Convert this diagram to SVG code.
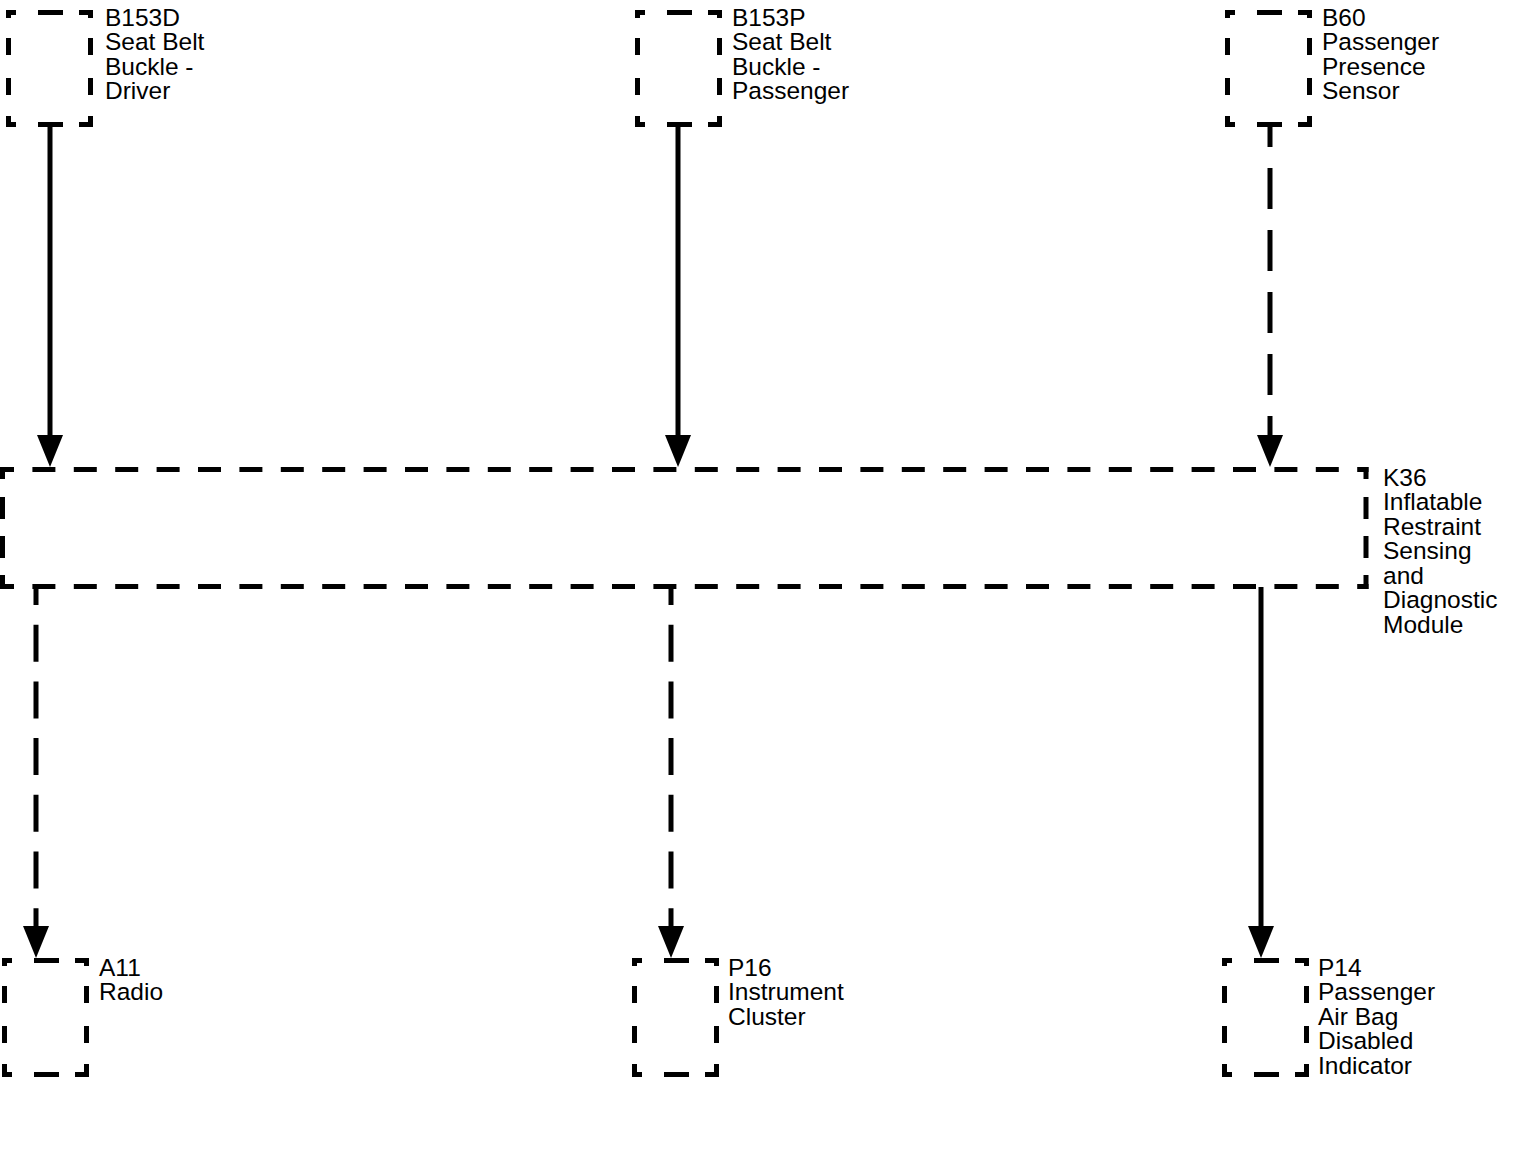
<svg xmlns="http://www.w3.org/2000/svg" width="1518" height="1150" viewBox="0 0 1518 1150">
<style>
.e{stroke:#000;stroke-width:5;fill:none;stroke-linecap:butt}
.h{stroke-dasharray:10 22 25 16 14}
.v{stroke-dasharray:8 20 17 23 17 21 11}
.kh{stroke-dasharray:23 18.4;stroke-dashoffset:9}
.kv{stroke-dasharray:12 18 22 17 22 17 14}
.c{stroke:#000;stroke-width:5;fill:none}
text{font-family:"Liberation Sans",Arial,Helvetica,sans-serif;font-size:24.5px;fill:#000}
</style>
<defs>
<marker id="arr" markerUnits="userSpaceOnUse" viewBox="0 -13 32 26" markerWidth="32" markerHeight="26" refX="16" refY="0" orient="auto">
<path d="M0,-13 L32,0 L0,13 z" fill="#000"/>
</marker>
</defs>

<g id="B153D">
<line class="e h" x1="6" y1="12.5" x2="93" y2="12.5"/>
<line class="e h" x1="6" y1="124.5" x2="93" y2="124.5"/>
<line class="e v" x1="8.5" y1="10" x2="8.5" y2="127"/>
<line class="e v" x1="90.5" y1="10" x2="90.5" y2="127"/>
<text x="105" y="25.5">B153D</text>
<text x="105" y="50">Seat Belt</text>
<text x="105" y="74.5">Buckle -</text>
<text x="105" y="99">Driver</text>
</g>

<g id="B153P">
<line class="e h" x1="635" y1="12.5" x2="722" y2="12.5"/>
<line class="e h" x1="635" y1="124.5" x2="722" y2="124.5"/>
<line class="e v" x1="637.5" y1="10" x2="637.5" y2="127"/>
<line class="e v" x1="719.5" y1="10" x2="719.5" y2="127"/>
<text x="732" y="25.5">B153P</text>
<text x="732" y="50">Seat Belt</text>
<text x="732" y="74.5">Buckle -</text>
<text x="732" y="99">Passenger</text>
</g>

<g id="B60">
<line class="e h" x1="1225" y1="12.5" x2="1312" y2="12.5"/>
<line class="e h" x1="1225" y1="124.5" x2="1312" y2="124.5"/>
<line class="e v" x1="1227.5" y1="10" x2="1227.5" y2="127"/>
<line class="e v" x1="1309.5" y1="10" x2="1309.5" y2="127"/>
<text x="1322" y="25.5">B60</text>
<text x="1322" y="50">Passenger</text>
<text x="1322" y="74.5">Presence</text>
<text x="1322" y="99">Sensor</text>
</g>

<g id="K36">
<line class="e kh" x1="0" y1="469.5" x2="1368.5" y2="469.5"/>
<line class="e kh" x1="0" y1="586.5" x2="1368.5" y2="586.5"/>
<line class="e kv" x1="2.5" y1="467" x2="2.5" y2="589"/>
<line class="e kv" x1="1366" y1="467" x2="1366" y2="589"/>
<text x="1383" y="485.5">K36</text>
<text x="1383" y="510">Inflatable</text>
<text x="1383" y="534.5">Restraint</text>
<text x="1383" y="559">Sensing</text>
<text x="1383" y="583.5">and</text>
<text x="1383" y="608">Diagnostic</text>
<text x="1383" y="632.5">Module</text>
</g>

<g id="A11">
<line class="e h" x1="2" y1="960.5" x2="89" y2="960.5"/>
<line class="e h" x1="2" y1="1074.5" x2="89" y2="1074.5"/>
<line class="e v" x1="4.5" y1="958" x2="4.5" y2="1077"/>
<line class="e v" x1="86.5" y1="958" x2="86.5" y2="1077"/>
<text x="99" y="975.5">A11</text>
<text x="99" y="1000">Radio</text>
</g>

<g id="P16">
<line class="e h" x1="632" y1="960.5" x2="719" y2="960.5"/>
<line class="e h" x1="632" y1="1074.5" x2="719" y2="1074.5"/>
<line class="e v" x1="634.5" y1="958" x2="634.5" y2="1077"/>
<line class="e v" x1="716.5" y1="958" x2="716.5" y2="1077"/>
<text x="728" y="975.5">P16</text>
<text x="728" y="1000">Instrument</text>
<text x="728" y="1024.5">Cluster</text>
</g>

<g id="P14">
<line class="e h" x1="1222" y1="960.5" x2="1309" y2="960.5"/>
<line class="e h" x1="1222" y1="1074.5" x2="1309" y2="1074.5"/>
<line class="e v" x1="1224.5" y1="958" x2="1224.5" y2="1077"/>
<line class="e v" x1="1306.5" y1="958" x2="1306.5" y2="1077"/>
<text x="1318" y="975.5">P14</text>
<text x="1318" y="1000">Passenger</text>
<text x="1318" y="1024.5">Air Bag</text>
<text x="1318" y="1049">Disabled</text>
<text x="1318" y="1073.5">Indicator</text>
</g>

<g id="connectors">
<line class="c" x1="50" y1="127" x2="50" y2="451" marker-end="url(#arr)"/>
<line class="c" x1="678" y1="127" x2="678" y2="451" marker-end="url(#arr)"/>
<line class="c" x1="1270" y1="127" x2="1270" y2="451" stroke-dasharray="41 21" stroke-dashoffset="21" marker-end="url(#arr)"/>
<line class="c" x1="36" y1="587" x2="36" y2="942" stroke-dasharray="37 19.7" stroke-dashoffset="19" marker-end="url(#arr)"/>
<line class="c" x1="671" y1="587" x2="671" y2="942" stroke-dasharray="37 19.7" stroke-dashoffset="19" marker-end="url(#arr)"/>
<line class="c" x1="1261" y1="587" x2="1261" y2="942" marker-end="url(#arr)"/>
</g>
</svg>
